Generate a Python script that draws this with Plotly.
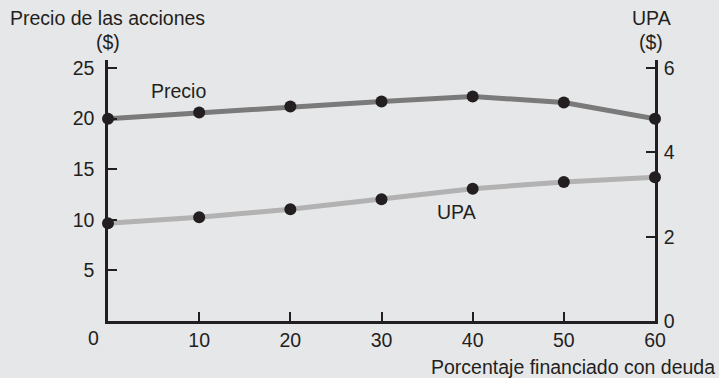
import plotly.graph_objects as go

# Datos
deuda_pct = [0, 10, 20, 30, 40, 50, 60]
precio = [20.0, 20.6, 21.2, 21.7, 22.2, 21.6, 20.0]
upa = [2.32, 2.46, 2.65, 2.89, 3.14, 3.30, 3.41]

x_ticks = [10, 20, 30, 40, 50, 60]
precio_ticks = [5, 10, 15, 20, 25]
upa_ticks = [2, 4, 6]

BG = "#e6e7e9"
INK = "#231f20"
FONT = "Liberation Sans, Arial, sans-serif"
FS = 19.5

# área del gráfico en píxeles
L, R, T, B = 108, 655, 60, 321
W, H = 719, 378

fig = go.Figure()

fig.add_trace(go.Scatter(
    x=deuda_pct, y=precio, mode="lines+markers", yaxis="y",
    line=dict(color="#7a7a7a", width=5),
    marker=dict(color=INK, size=12),
    cliponaxis=False, showlegend=False, name="Precio",
))
fig.add_trace(go.Scatter(
    x=deuda_pct, y=upa, mode="lines+markers", yaxis="y2",
    line=dict(color="#b2b2b2", width=5),
    marker=dict(color=INK, size=12),
    cliponaxis=False, showlegend=False, name="UPA",
))

axis_common = dict(showgrid=False, zeroline=False, showline=True,
                   linecolor=INK, linewidth=2.5, ticks="inside",
                   ticklen=9, tickwidth=1.5, tickcolor=INK,
                   tickfont=dict(family=FONT, size=FS, color=INK))

fig.update_layout(
    width=W, height=H,
    margin=dict(l=L, r=W - R, t=T, b=H - B),
    paper_bgcolor=BG, plot_bgcolor=BG,
    font=dict(family=FONT, size=FS, color=INK),
    xaxis=dict(range=[0, 60], tickvals=x_ticks, ticklabelstandoff=0, **axis_common),
    yaxis=dict(range=[0, 25.8], tickvals=precio_ticks, ticklabelstandoff=7, **axis_common),
    yaxis2=dict(range=[0, 25.8 * 6 / 25], tickvals=[0] + upa_ticks, overlaying="y",
                side="right", ticklabelstandoff=2, **axis_common),
)

# Textos: títulos de ejes y etiquetas de series (posiciones en píxeles)
notes = [
    (8, 18, "Precio de las acciones", "left"),
    (108, 42, "($)", "center"),
    (651, 18, "UPA", "center"),
    (651, 42, "($)", "center"),
    (717, 367, "Porcentaje financiado con deuda", "right"),
    (178, 91, "Precio", "center"),
    (456, 212, "UPA", "center"),
    (93, 338, "0", "center"),
]
for xp, yp, txt, al in notes:
    fig.add_annotation(
        x=(xp - L) / (R - L), y=(B - yp) / (B - T), xref="paper", yref="paper",
        text=txt, showarrow=False, xanchor=al, yanchor="middle",
        font=dict(family=FONT, size=FS, color=INK),
    )

fig.write_html("out.html", config={"displayModeBar": False},
               post_script="document.body.style.margin='0';")
